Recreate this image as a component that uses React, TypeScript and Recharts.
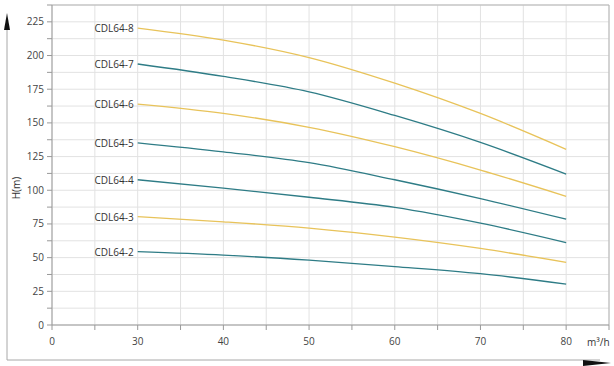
import React from "react";
import { LineChart, Line, XAxis, YAxis, CartesianGrid, ReferenceLine, LabelList } from "recharts";

const flows = [30, 40, 50, 60, 70, 80];
const cdl64_2 = [54.4, 51.9, 48.1, 43.4, 38.1, 30.3];
const cdl64_3 = [80.4, 76.6, 71.9, 65.2, 56.8, 46.5];
const cdl64_4 = [107.8, 101.6, 94.8, 87.3, 75.6, 61.2];
const cdl64_5 = [135.2, 128.5, 120.5, 107.8, 93.8, 78.5];
const cdl64_6 = [164.0, 157.1, 146.7, 132.3, 115.0, 95.5];
const cdl64_7 = [193.7, 184.5, 173.0, 155.5, 135.5, 112.0];
const cdl64_8 = [220.4, 211.5, 198.5, 179.5, 157.0, 130.4];

const seriesNames = ["CDL64-2", "CDL64-3", "CDL64-4", "CDL64-5", "CDL64-6", "CDL64-7", "CDL64-8"];
const seriesValues = [cdl64_2, cdl64_3, cdl64_4, cdl64_5, cdl64_6, cdl64_7, cdl64_8];

const xTicks = [20, 25, 30, 35, 40, 45, 50, 55, 60, 65, 70, 75, 80, 85];
const xTickLabels = ["0", "", "30", "", "40", "", "50", "", "60", "", "70", "", "80", ""];
const yTicks = [0, 12.5, 25, 37.5, 50, 62.5, 75, 87.5, 100, 112.5, 125, 137.5, 150, 162.5, 175, 187.5, 200, 212.5, 225, 237.5];
const yTickLabels = ["0", "", "25", "", "50", "", "75", "", "100", "", "125", "", "150", "", "175", "", "200", "", "225", ""];
const xUnit = "m³/h";
const yUnit = "H(m)";

const YELLOW = "#E8C35A";
const TEAL = "#2E7C86";
const colors = [TEAL, YELLOW, TEAL, TEAL, YELLOW, TEAL, YELLOW];

const data = flows.map((q, i) => {
  const row: Record<string, number> = { q };
  seriesNames.forEach((n, k) => {
    row[n] = seriesValues[k][i];
  });
  return row;
});

const FONT = "'Open Sans', sans-serif";

const makeLabel = (name: string) => (props: any) => {
  const { x, y, index } = props;
  if (index !== 0) return null;
  return (
    <text x={x - 4} y={y} textAnchor="end" dominantBaseline="central" fontSize={10} fontFamily={FONT} fill="#333">
      {name}
    </text>
  );
};

export default function App() {
  return (
    <div style={{ position: "absolute", left: 0, top: 0, width: 614, height: 366, background: "#fff" }}>
      <LineChart width={614} height={366} data={data} margin={{ top: 5, right: 5, left: 0, bottom: 0 }}>
        <CartesianGrid stroke="#e2e2e2" strokeWidth={1} />
        <XAxis
          dataKey="q"
          type="number"
          domain={[20, 85]}
          ticks={xTicks}
          interval={0}
          height={41}
          tickSize={5}
          tickMargin={8}
          tickFormatter={(v: number) => xTickLabels[xTicks.indexOf(v)] ?? ""}
          stroke="#999"
          tick={{ fill: "#444", fontSize: 10, fontFamily: FONT }}
          allowDataOverflow
        />
        <YAxis
          type="number"
          domain={[0, 237.5]}
          ticks={yTicks}
          interval={0}
          width={52}
          tickSize={5}
          tickMargin={3}
          tickFormatter={(v: number) => yTickLabels[yTicks.indexOf(v)] ?? ""}
          stroke="#999"
          tick={{ fill: "#444", fontSize: 10, fontFamily: FONT }}
          allowDataOverflow
        />
        <ReferenceLine y={237.5} stroke="#b5b5b5" />
        <ReferenceLine x={85} stroke="#b5b5b5" />
        {seriesNames.map((n, k) => (
          <Line
            key={n}
            dataKey={n}
            type="monotone"
            stroke={colors[k]}
            strokeWidth={1.3}
            dot={false}
            isAnimationActive={false}
          >
            <LabelList dataKey={n} content={makeLabel(n)} />
          </Line>
        ))}
      </LineChart>
      <svg width={614} height={366} style={{ position: "absolute", left: 0, top: 0, pointerEvents: "none" }}>
        <line x1={7} y1={28} x2={7} y2={360} stroke="#a8a8a8" strokeWidth={1} />
        <line x1={7} y1={360} x2={600} y2={360} stroke="#a8a8a8" strokeWidth={1} />
        <polygon points="7,13 4,30 10,30" fill="#111" />
        <polygon points="583,360 611,363 583,366" fill="#111" />
        <text x={587} y={342} dominantBaseline="central" fontSize={10} fontFamily={FONT} fill="#333">
          {xUnit}
        </text>
        <text
          x={16}
          y={188}
          transform="rotate(-90 16 188)"
          textAnchor="middle"
          dominantBaseline="central"
          fontSize={10}
          fontFamily={FONT}
          fill="#333"
        >
          {yUnit}
        </text>
      </svg>
    </div>
  );
}
